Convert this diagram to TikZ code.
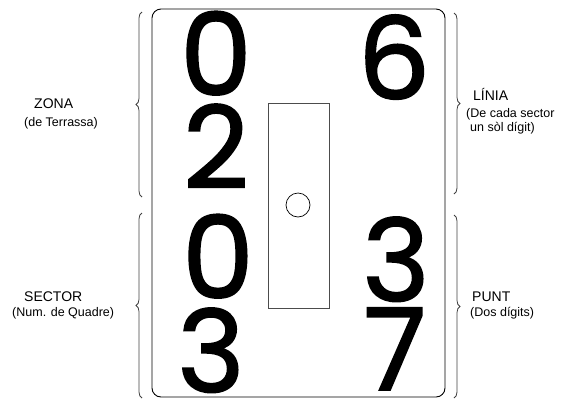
\documentclass[tikz,border=0pt]{standalone}
\usepackage{fontspec}
\setmainfont{Liberation Sans}
\newfontfamily\digitfont[FakeBold=1.6]{Poppins}
\usetikzlibrary{decorations.pathreplacing}
\begin{document}
\begin{tikzpicture}[x=1pt,y=-1pt,
  digit/.style={inner sep=0pt, anchor=base, text height=80pt, text depth=0pt, font=\digitfont\fontsize{114}{114}\selectfont},
  ttl/.style={inner sep=0pt, anchor=base west, font=\fontsize{14}{16}\selectfont},
  subttl/.style={inner sep=0pt, anchor=base west, font=\fontsize{12.5}{14}\selectfont},
  bracestyle/.style={draw=black!75, line width=0.8pt, decorate, decoration={brace, amplitude=6pt}},
  frame/.style={draw=black, line width=0.9pt, rounded corners=9pt},
  slot/.style={draw=black!70, line width=0.8pt},
]
\useasboundingbox (0,0) rectangle (573,400);
% frame
\draw[frame] (152,9) rectangle (445,397);
\draw[slot] (268,103) rectangle (329,308);
\node[draw=black, line width=0.7pt, circle, minimum size=24pt, inner sep=0pt] (hole) at (298,205) {};
% digits
\node[digit] (d1) at (216,95) {0};
\node[digit] (d2) at (216,188) {2};
\node[digit] (d3) at (218,298) {0};
\node[digit] (d4) at (211,392) {3};
\node[digit] (d5) at (394,99) {6};
\node[digit] (d6) at (396,301) {3};
\node[digit] (d7) at (395,390) {7};
% braces
\draw[bracestyle] (142,197) -- (142,12);
\draw[bracestyle] (142,398) -- (142,213);
\draw[bracestyle] (454,13) -- (454,194);
\draw[bracestyle] (454,215) -- (454,398);
% labels
\node[ttl] (zona) at (34,108) {ZONA};
\node[subttl] (zonas) at (24,126) {(de Terrassa)};
\node[ttl] (sector) at (24,301) {SECTOR};
\node[subttl] (sectors) at (12,316) {(Num. de Quadre)};
\node[ttl] (linia) at (473,100) {LÍNIA};
\node[subttl] (linias1) at (466,117) {(De cada sector};
\node[subttl] (linias2) at (470,131) {un sòl dígit)};
\node[ttl] (punt) at (472,301) {PUNT};
\node[subttl] (punts) at (470,316) {(Dos dígits)};
\end{tikzpicture}
\end{document}
